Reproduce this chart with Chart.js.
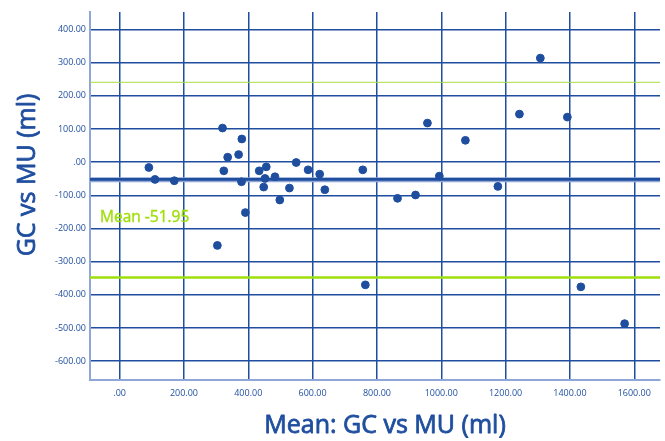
<!DOCTYPE html>
<html>
<head>
<meta charset="utf-8">
<script src="https://cdn.jsdelivr.net/npm/chart.js@4.4.1/dist/chart.umd.min.js"></script>
<style>
  body { margin: 0; background: #fff; }
  canvas { display: block; }
</style>
</head>
<body>
<canvas id="myChart" width="665" height="441"></canvas>
<script>
// mean of GC and MU (x) vs difference GC - MU (y)
const meanVals = [91, 110, 170, 304, 320, 324, 336, 370, 380, 379, 391, 434, 448, 452, 456,
  483, 498, 528, 549, 586, 622, 638, 756, 764, 864, 920, 957, 994, 1075, 1176,
  1243, 1308, 1392, 1434, 1570];
const diffVals = [-16, -52, -56, -251, 103, -26, 15, 23, 70, -59, -152, -26, -75, -49, -14,
  -44, -114, -78, -1, -23, -36, -83, -23, -370, -109, -99, 118, -42, 66, -73,
  145, 314, 136, -376, -487];

const meanDiff = -51.95;
const upperLine = 241;
const lowerLine = -348;

const xTicks = [0, 200, 400, 600, 800, 1000, 1200, 1400, 1600];
const yTicks = [400, 300, 200, 100, 0, -100, -200, -300, -400, -500, -600];
const X_MIN = -92, X_MAX = 1680;
const Y_MIN = -657, Y_MAX = 453;

const blue = '#1f4e9f';
const green = '#9fdf0a';
const axisBlue = '#8ea7d6';

function fmt(v) {
  return v === 0 ? '.00' : v.toFixed(2);
}

function hline(y) {
  return [{x: X_MIN, y: y}, {x: X_MAX, y: y}];
}

const points = meanVals.map((m, i) => ({x: m, y: diffVals[i]}));

// regular weight text, thickened a little with a thin stroke
function heavyText(c, txt, x, y, w) {
  c.lineWidth = w;
  c.lineJoin = 'round';
  c.strokeStyle = c.fillStyle;
  c.strokeText(txt, x, y);
  c.fillText(txt, x, y);
}

const textPlugin = {
  id: 'texts',
  afterDraw(chart) {
    const c = chart.ctx;
    const area = chart.chartArea;
    c.save();
    c.fillStyle = blue;
    c.font = '25px "Open Sans"';
    c.textAlign = 'center';
    c.textBaseline = 'middle';
    heavyText(c, 'Mean: GC vs MU (ml)', 385, 426, 0.8);
    c.translate(28, 175);
    c.rotate(-Math.PI / 2);
    heavyText(c, 'GC vs MU (ml)', 0, 0, 0.8);
    c.restore();

    c.save();
    c.fillStyle = green;
    c.font = '15.5px "Open Sans"';
    c.textAlign = 'left';
    c.textBaseline = 'alphabetic';
    heavyText(c, 'Mean -51.95', area.left + 10, 222, 0.4);
    c.restore();
  }
};

const ctx = document.getElementById('myChart');

new Chart(ctx, {
  type: 'scatter',
  data: {
    datasets: [
      {
        data: points,
        backgroundColor: blue,
        borderColor: blue,
        pointRadius: 3.9,
        order: 0
      },
      {
        type: 'line',
        data: hline(meanDiff),
        borderColor: blue,
        borderWidth: 2.8,
        pointRadius: 0,
        order: 1
      },
      {
        type: 'line',
        data: hline(meanDiff - 0.8),
        borderColor: axisBlue,
        borderWidth: 5,
        pointRadius: 0,
        order: 2
      },
      {
        type: 'line',
        data: hline(upperLine),
        borderColor: '#a8de3c',
        borderWidth: 1,
        pointRadius: 0,
        order: 1
      },
      {
        type: 'line',
        data: hline(lowerLine),
        borderColor: green,
        borderWidth: 2.5,
        pointRadius: 0,
        order: 1
      }
    ]
  },
  options: {
    responsive: false,
    animation: false,
    devicePixelRatio: 1,
    layout: { padding: { top: 12, right: 0, left: 0, bottom: 0 } },
    plugins: {
      legend: { display: false },
      tooltip: { enabled: false }
    },
    scales: {
      x: {
        type: 'linear',
        min: X_MIN,
        max: X_MAX,
        afterBuildTicks: s => { s.ticks = xTicks.map(v => ({value: v})); },
        afterFit: s => { s.height = 61; },
        grid: { color: blue, lineWidth: 1.5, drawTicks: false },
        border: { color: axisBlue, width: 2 },
        ticks: {
          color: blue,
          font: { family: 'Open Sans', size: 9 },
          padding: 8,
          maxRotation: 0,
          callback: v => fmt(v)
        }
      },
      y: {
        type: 'linear',
        min: Y_MIN,
        max: Y_MAX,
        afterBuildTicks: s => { s.ticks = yTicks.map(v => ({value: v})); },
        afterFit: s => { s.width = 90; },
        grid: { color: blue, lineWidth: 1.5, drawTicks: false },
        border: { color: axisBlue, width: 2 },
        ticks: {
          color: blue,
          font: { family: 'Open Sans', size: 9 },
          padding: 4,
          callback: v => fmt(v)
        }
      }
    }
  },
  plugins: [textPlugin]
});
</script>
</body>
</html>
